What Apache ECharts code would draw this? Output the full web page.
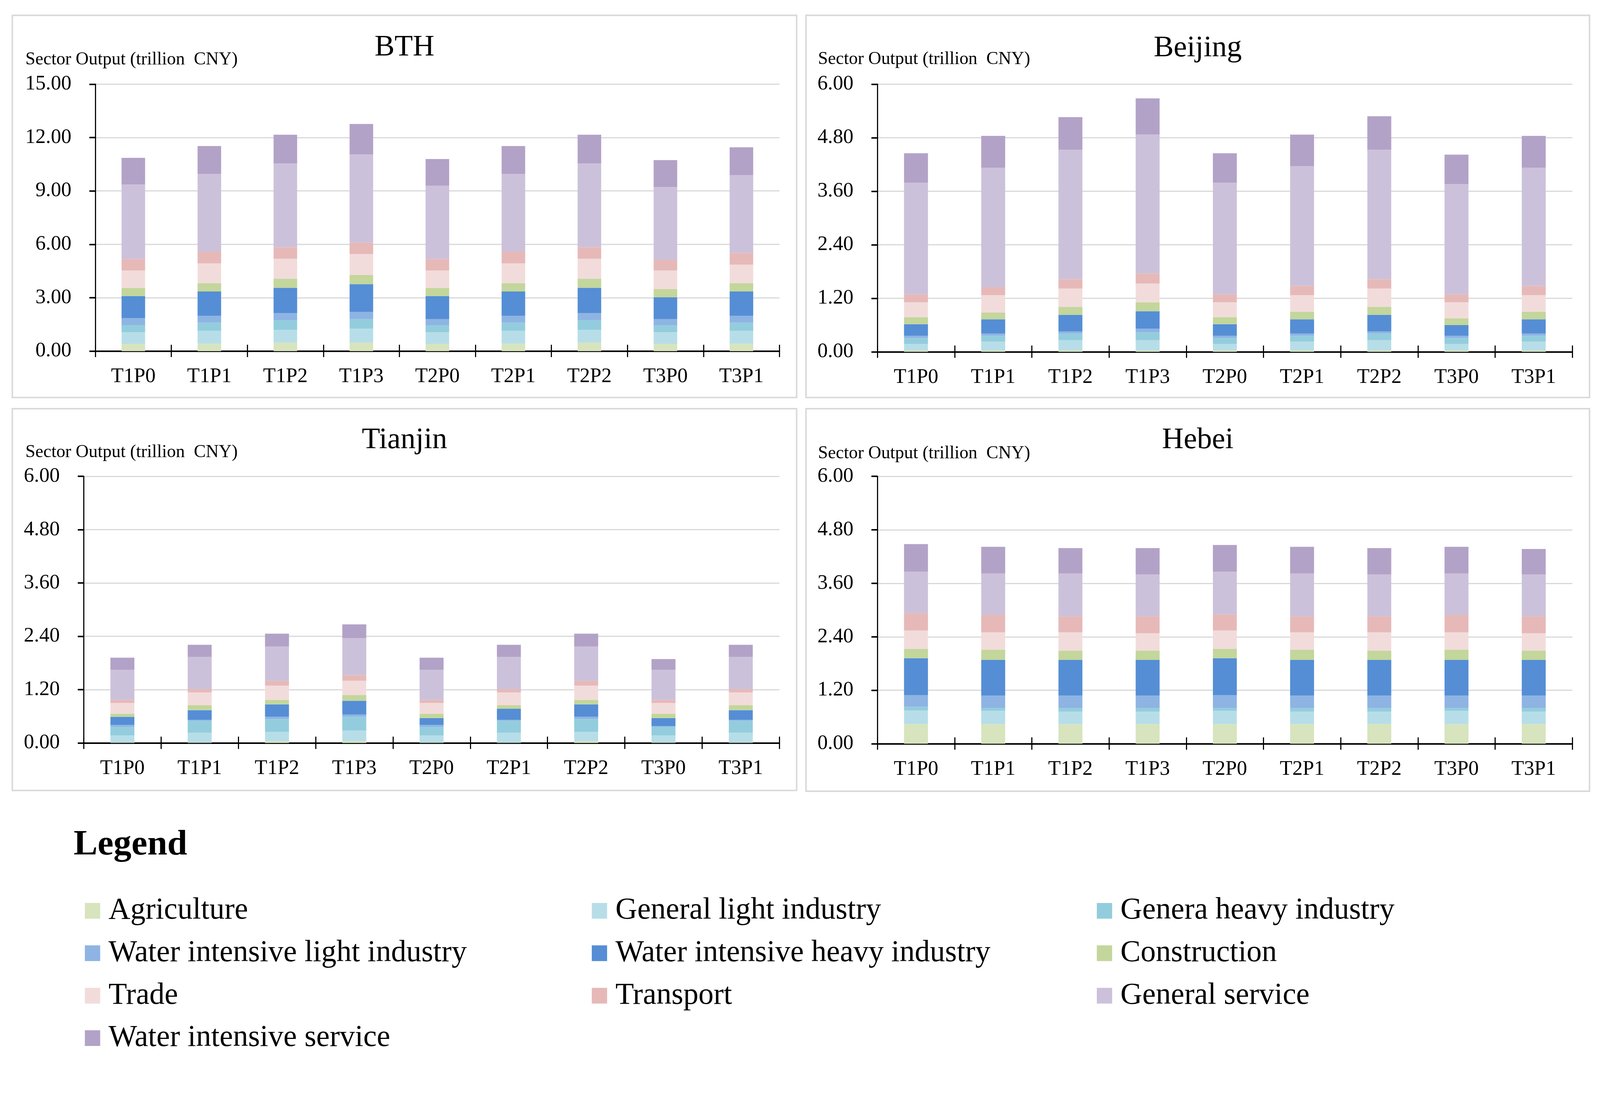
<!DOCTYPE html>
<html>
<head>
<meta charset="utf-8">
<script src="https://cdn.jsdelivr.net/npm/echarts@6/dist/echarts.min.js"></script>
<style>
html,body{margin:0;padding:0;background:#fff;overflow:hidden;}
#chart{position:absolute;left:0;top:0;}
</style>
</head>
<body>
<div id="chart"></div>
<script>
// ---------------- DATA ----------------
const categories = ['T1P0','T1P1','T1P2','T1P3','T2P0','T2P1','T2P2','T3P0','T3P1'];
const sectors = ['Agriculture','General light industry','Genera heavy industry','Water intensive light industry','Water intensive heavy industry','Construction','Trade','Transport','General service','Water intensive service'];
const sectorColors = ['#d7e4bd','#b7dee8','#93cddd','#8eb4e3','#558ed5','#c3d69b','#f2dcdb','#e6b9b8','#ccc1da','#b3a2c7'];
const panelTitles = ['BTH','Beijing','Tianjin','Hebei'];
const axisTitle = 'Sector Output (trillion  CNY)';
const yMax = [15, 6, 6, 6];
const yStep = [3, 1.2, 1.2, 1.2];

// rows = sectors (bottom to top), columns = categories
const bthValues = [
  [0.41,0.42,0.48,0.48,0.41,0.42,0.48,0.41,0.42],
  [0.66,0.72,0.72,0.78,0.66,0.72,0.72,0.66,0.72],
  [0.39,0.46,0.53,0.54,0.39,0.46,0.53,0.39,0.46],
  [0.39,0.39,0.40,0.40,0.34,0.39,0.40,0.34,0.39],
  [1.24,1.36,1.43,1.56,1.29,1.36,1.43,1.22,1.36],
  [0.47,0.46,0.51,0.51,0.47,0.46,0.51,0.46,0.46],
  [0.97,1.12,1.12,1.18,0.97,1.12,1.12,1.05,1.05],
  [0.65,0.66,0.65,0.65,0.65,0.66,0.65,0.60,0.66],
  [4.18,4.36,4.70,4.95,4.12,4.36,4.70,4.09,4.36],
  [1.50,1.57,1.62,1.71,1.49,1.57,1.62,1.51,1.57]
];
const beijingValues = [
  [0.03,0.03,0.03,0.03,0.03,0.03,0.03,0.03,0.03],
  [0.15,0.20,0.23,0.23,0.15,0.20,0.23,0.15,0.20],
  [0.13,0.13,0.15,0.18,0.13,0.13,0.15,0.13,0.13],
  [0.05,0.05,0.05,0.08,0.05,0.05,0.05,0.05,0.05],
  [0.26,0.32,0.37,0.39,0.26,0.32,0.37,0.24,0.32],
  [0.16,0.15,0.18,0.20,0.16,0.17,0.18,0.15,0.17],
  [0.33,0.39,0.41,0.42,0.33,0.37,0.41,0.36,0.37],
  [0.18,0.18,0.21,0.23,0.18,0.21,0.21,0.18,0.21],
  [2.50,2.68,2.90,3.11,2.50,2.68,2.90,2.47,2.65],
  [0.66,0.71,0.73,0.81,0.66,0.71,0.75,0.66,0.71]
];
const tianjinValues = [
  [0.01,0.01,0.04,0.04,0.01,0.01,0.04,0.01,0.01],
  [0.16,0.22,0.21,0.24,0.16,0.22,0.21,0.16,0.22],
  [0.19,0.27,0.29,0.31,0.19,0.27,0.29,0.19,0.27],
  [0.05,0.02,0.05,0.05,0.05,0.02,0.05,0.02,0.02],
  [0.18,0.22,0.28,0.31,0.15,0.25,0.28,0.18,0.22],
  [0.07,0.11,0.10,0.13,0.10,0.08,0.10,0.10,0.11],
  [0.24,0.29,0.32,0.32,0.24,0.29,0.32,0.24,0.29],
  [0.07,0.07,0.11,0.13,0.07,0.07,0.11,0.07,0.07],
  [0.68,0.73,0.77,0.83,0.68,0.73,0.77,0.68,0.73],
  [0.27,0.27,0.29,0.31,0.27,0.27,0.29,0.24,0.27]
];
const hebeiValues = [
  [0.44,0.44,0.44,0.44,0.44,0.44,0.44,0.44,0.44],
  [0.31,0.30,0.28,0.28,0.30,0.28,0.28,0.30,0.28],
  [0.08,0.06,0.08,0.08,0.06,0.08,0.08,0.06,0.08],
  [0.26,0.28,0.28,0.28,0.29,0.28,0.28,0.28,0.28],
  [0.83,0.80,0.80,0.80,0.83,0.80,0.80,0.80,0.80],
  [0.21,0.23,0.21,0.21,0.21,0.23,0.21,0.23,0.21],
  [0.41,0.39,0.41,0.39,0.41,0.39,0.41,0.39,0.39],
  [0.39,0.39,0.36,0.38,0.36,0.36,0.36,0.39,0.38],
  [0.93,0.93,0.96,0.94,0.96,0.96,0.94,0.93,0.94],
  [0.62,0.60,0.57,0.59,0.60,0.60,0.59,0.60,0.57]
];
const regionValues = [bthValues, beijingValues, tianjinValues, hebeiValues];

// ---------------- LAYOUT (designed for 4280x2846, scaled to viewport) ----------------
const W0 = 4280, H0 = 2846;
const vw = window.innerWidth || W0, vh = window.innerHeight || H0;
const S = Math.min(vw / W0, vh / H0);
const px = v => v * S;
const el = document.getElementById('chart');
el.style.width = Math.round(W0 * S) + 'px';
el.style.height = Math.round(H0 * S) + 'px';

const FONT = '"Liberation Serif", "Times New Roman", serif';
const grids = [
  {left:255, top:225, width:1830, height:714},
  {left:2347, top:225, width:1859, height:716},
  {left:224, top:1274, width:1861, height:713},
  {left:2347, top:1274, width:1859, height:715}
].map(g => ({left:px(g.left), top:px(g.top), width:px(g.width), height:px(g.height)}));
const panels = [
  {x:33, y:41, w:2098, h:1022},
  {x:2156, y:41, w:2096, h:1022},
  {x:33, y:1093, w:2098, h:1021},
  {x:2156, y:1093, w:2096, h:1023}
];
const titlePos = [[1082,127],[3204,129],[1082,1177],[3204,1177]];
const axisTitlePos = [[68,160],[2188,159],[68,1210],[2188,1213]];

const xAxes = [], yAxes = [], series = [], graphics = [];
panels.forEach(p => graphics.push({type:'rect', shape:{x:px(p.x),y:px(p.y),width:px(p.w),height:px(p.h)}, style:{fill:'none', stroke:'#d9d9d9', lineWidth:px(4)}, z:-1}));

for (let r = 0; r < 4; r++) {
  xAxes.push({
    type:'category', gridIndex:r, data:categories, position:'bottom',
    axisLine:{show:true, lineStyle:{color:'#000', width:px(4)}},
    axisTick:{show:true, inside:false, length:px(16), lineStyle:{color:'#000', width:px(3)}},
    axisLabel:{interval:0, margin:px(41), color:'#000', fontSize:px(55), fontFamily:FONT},
    splitLine:{show:false}
  });
  xAxes.push({
    type:'category', gridIndex:r, data:categories, position:'bottom',
    axisLine:{show:false},
    axisTick:{show:true, inside:true, length:px(17), lineStyle:{color:'#000', width:px(3)}},
    axisLabel:{show:false}, splitLine:{show:false}
  });
  yAxes.push({
    type:'value', gridIndex:r, min:0, max:yMax[r], interval:yStep[r],
    axisLine:{show:true, lineStyle:{color:'#000', width:px(3)}},
    axisTick:{show:true, inside:false, length:px(16), lineStyle:{color:'#000', width:px(4)}},
    axisLabel:{margin:px(64), color:'#000', fontSize:px(55), fontFamily:FONT, padding:[px(8),0,0,0], formatter: v => v.toFixed(2)},
    splitLine:{show:true, lineStyle:{color:'#d9d9d9', width:px(3)}}
  });
  const vals = regionValues[r];
  sectors.forEach((name, s) => {
    series.push({
      type:'bar', name:name, stack:'stack'+r,
      xAxisIndex:2*r, yAxisIndex:r,
      barWidth:'31%', data:vals[s],
      itemStyle:{color:sectorColors[s]},
      emphasis:{disabled:true}
    });
  });
  graphics.push({type:'text', x:px(titlePos[r][0]), y:px(titlePos[r][1]),
    style:{text:panelTitles[r], font:px(80)+'px '+FONT, fill:'#000', align:'center', verticalAlign:'middle', textAlign:'center', textVerticalAlign:'middle'}});
  graphics.push({type:'text', x:px(axisTitlePos[r][0]), y:px(axisTitlePos[r][1]),
    style:{text:axisTitle, font:px(48)+'px '+FONT, fill:'#000', align:'left', verticalAlign:'middle', textAlign:'left', textVerticalAlign:'middle'}});
}

graphics.push({type:'text', x:px(197), y:px(2260),
  style:{text:'Legend', font:'bold '+px(96)+'px '+FONT, fill:'#000', align:'left', verticalAlign:'middle', textAlign:'left', textVerticalAlign:'middle'}});

const legendCols = [
  {left:227, names:[sectors[0], sectors[3], sectors[6], sectors[9]]},
  {left:1583, names:[sectors[1], sectors[4], sectors[7]]},
  {left:2934, names:[sectors[2], sectors[5], sectors[8]]}
];
const legends = legendCols.map(c => ({
  orient:'vertical', left:px(c.left), top:px(2395), padding:0,
  itemWidth:px(41), itemHeight:px(42), itemGap:px(32), icon:'rect',
  selectedMode:false,
  data:c.names,
  textStyle:{color:'#000', fontSize:px(81), fontFamily:FONT, padding:[0,0,0,px(17)]}
}));

const chart = echarts.init(el, null, {renderer:'canvas'});
chart.setOption({
  animation:false,
  backgroundColor:'#fff',
  grid:grids,
  xAxis:xAxes,
  yAxis:yAxes,
  legend:legends,
  series:series,
  graphic:graphics
});
</script>
</body>
</html>
